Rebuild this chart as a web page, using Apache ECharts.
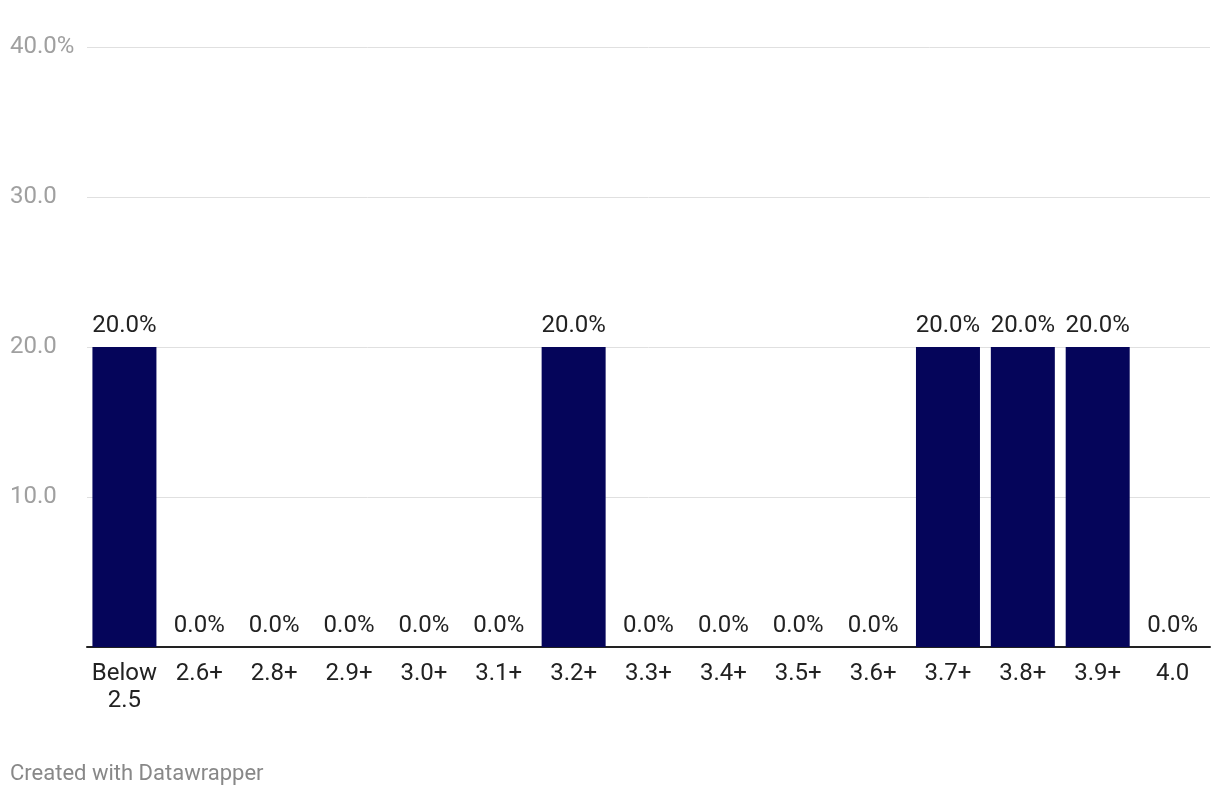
<!DOCTYPE html>
<html>
<head>
<meta charset="utf-8">
<script src="https://cdn.jsdelivr.net/npm/echarts@6/dist/echarts.min.js"></script>
<style>
html,body{margin:0;padding:0;background:#fff;}
#chart{width:1220px;height:796px;}
</style>
</head>
<body>
<div id="chart"></div>
<script>
const categories = ["Below 2.5","2.6+","2.8+","2.9+","3.0+","3.1+","3.2+","3.3+","3.4+","3.5+","3.6+","3.7+","3.8+","3.9+","4.0"];
const shares = [20,0,0,0,0,0,20,0,0,0,0,20,20,20,0];
const yTicks = [10,20,30,40];

const chart = echarts.init(document.getElementById('chart'));
chart.setOption({
  animation: false,
  textStyle: { fontFamily: 'Roboto' },
  title: {
    text: 'Created with Datawrapper',
    left: 10, top: 763, padding: 0,
    textStyle: { fontFamily: 'Roboto', fontSize: 22, fontWeight: 'normal', color: '#888888' }
  },
  grid: { left: 87, right: 10, top: 47, bottom: 149, containLabel: false },
  xAxis: {
    type: 'category',
    data: categories,
    axisLine: { lineStyle: { color: '#222222', width: 2 } },
    axisTick: { show: false },
    axisLabel: {
      interval: 0,
      fontFamily: 'Roboto', fontSize: 24, color: '#222222',
      lineHeight: 27, margin: 13,
      formatter: v => v.replace(' ', '\n')
    }
  },
  yAxis: {
    type: 'value',
    min: 0, max: 40, interval: 10,
    axisLine: { show: false },
    axisTick: { show: false },
    splitLine: { lineStyle: { color: '#e0e0e0', width: 1 } },
    axisLabel: {
      fontFamily: 'Roboto', fontSize: 24, color: '#a0a0a0',
      align: 'left', margin: 77, padding: [4, 0, 0, 0],
      formatter: v => {
        if (v === 0) return '';
        if (v === yTicks[yTicks.length - 1]) return v.toFixed(1) + '%';
        return v.toFixed(1);
      }
    }
  },
  series: [{
    type: 'bar',
    data: shares,
    barWidth: 64,
    itemStyle: { color: '#05055a' },
    label: {
      show: true, position: 'top', distance: 9,
      fontFamily: 'Roboto', fontSize: 24, color: '#222222',
      formatter: p => p.value.toFixed(1) + '%'
    }
  }]
});
</script>
</body>
</html>
